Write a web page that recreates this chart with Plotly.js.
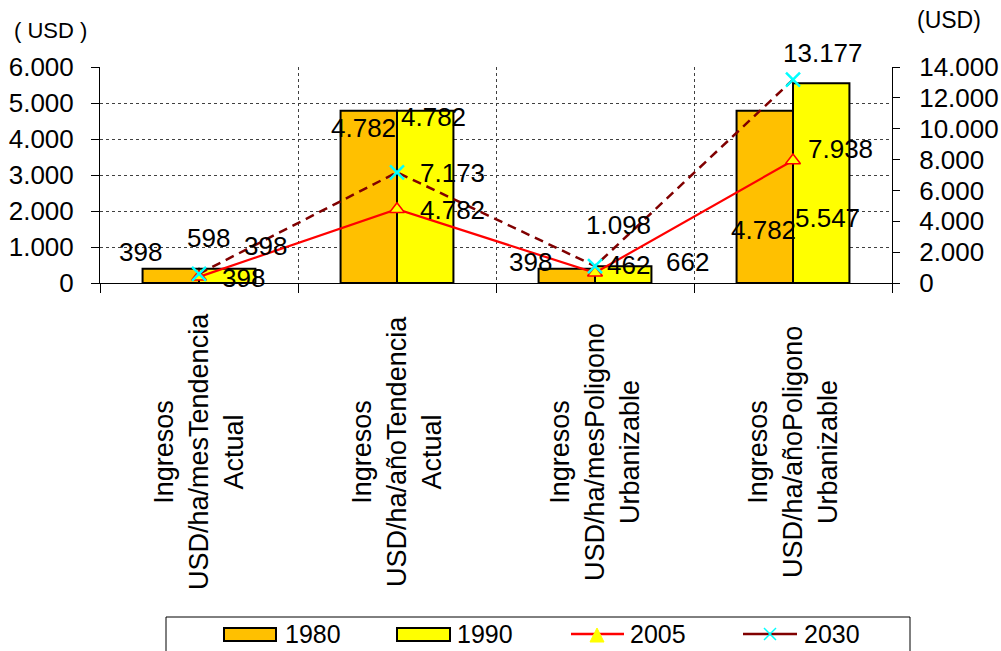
<!DOCTYPE html>
<html>
<head>
<meta charset="utf-8">
<script src="https://cdn.plot.ly/plotly-3.0.1.min.js"></script>
<style>html,body{margin:0;padding:0;background:#fff;}#chart{width:1001px;height:651px;}</style>
</head>
<body>
<div id="chart"></div>
<script>
// ---- data ----
const categories = [
  "Ingresos<br>USD/ha/mesTendencia<br>Actual",
  "Ingresos<br>USD/ha/añoTendencia<br>Actual",
  "Ingresos<br>USD/ha/mesPoligono<br>Urbanizable",
  "Ingresos<br>USD/ha/añoPoligono<br>Urbanizable"
];
const seriesNames = ["1980", "1990", "2005", "2030"];
const v1980 = [398, 4782, 398, 4782];
const v1990 = [398, 4782, 462, 5547];
const v2005 = [398, 4782, 662, 7938];
const v2030 = [598, 7173, 1098, 13177];
const leftTicks = [0, 1000, 2000, 3000, 4000, 5000, 6000];
const rightTicks = [0, 2000, 4000, 6000, 8000, 10000, 12000, 14000];

// ---- label offsets (pixels, relative to category centre / value) ----
const off1980 = [[-59, -17], [-34, 17], [-65, -7], [-30, 119]];
const off1990 = [[44, 9], [36, 6], [33, -1], [34, 135]];
const off2005 = [[66, -31], [55, 1], [92, -11], [47, -12]];
const off2030 = [[9, -36], [55, 1], [23, -41], [30, -27]];

const FONT = "Liberation Sans, Arial, Helvetica, sans-serif";
const M = {l: 100, r: 109, t: 67, b: 368};
const W = 1001, H = 651;
const PW = W - M.l - M.r, PH = H - M.t - M.b;
const px = v => (v - M.l) / PW;
const py = v => (H - M.b - v) / PH;
const fmt = v => String(v).replace(/\B(?=(\d{3})+(?!\d))/g, ".");

const traces = [
  {type: "bar", name: seriesNames[0], x: categories, y: v1980, yaxis: "y",
   marker: {color: "#FFC000", line: {color: "#000", width: 2}}, hoverinfo: "skip"},
  {type: "bar", name: seriesNames[1], x: categories, y: v1990, yaxis: "y",
   marker: {color: "#FFFF00", line: {color: "#000", width: 2}}, hoverinfo: "skip"},
  {type: "scatter", mode: "lines+markers", name: seriesNames[2], x: categories, y: v2005, yaxis: "y2",
   line: {color: "#FF0000", width: 2.2},
   marker: {symbol: "triangle-up", size: 13, color: "#FFFF00", line: {color: "#FF0000", width: 1.5}}},
  {type: "scatter", mode: "lines+markers", name: seriesNames[3], x: categories, y: v2030, yaxis: "y2",
   line: {color: "#800000", width: 2.5, dash: "9px,6px"},
   marker: {symbol: "x-thin", size: 14, color: "#00FFFF", line: {color: "#00FFFF", width: 2.5}}}
];

const annotations = [];
function addLabels(vals, offs, yref) {
  vals.forEach((v, i) => {
    annotations.push({x: categories[i], y: v, xref: "x", yref: yref, text: fmt(v),
      showarrow: false, xanchor: "center", yanchor: "middle",
      xshift: offs[i][0], yshift: -offs[i][1],
      font: {family: FONT, size: 26, color: "#000"}});
  });
}
addLabels(v1980, off1980, "y");
addLabels(v1990, off1990, "y");
addLabels(v2005, off2005, "y2");
addLabels(v2030, off2030, "y2");

// category labels (rotated, centred lines)
categories.forEach(c => {
  annotations.push({x: c, xref: "x", y: 0, yref: "paper", yshift: -169,
    text: c, textangle: -90, showarrow: false, xanchor: "center", yanchor: "middle",
    align: "center", font: {family: FONT, size: 27, color: "#000"}});
});

// axis unit titles
annotations.push({x: px(12), y: py(30), xref: "paper", yref: "paper", text: "( USD )",
  showarrow: false, xanchor: "left", yanchor: "middle", font: {family: FONT, size: 22, color: "#000"}});
annotations.push({x: px(915), y: py(20), xref: "paper", yref: "paper", text: "(USD)",
  showarrow: false, xanchor: "left", yanchor: "middle", font: {family: FONT, size: 23, color: "#000"}});

// custom legend
const shapes = [];
shapes.push({type: "rect", xref: "paper", yref: "paper", x0: px(166), x1: px(910), y0: py(617), y1: py(670),
  line: {color: "#000", width: 1}, fillcolor: "rgba(0,0,0,0)"});
shapes.push({type: "rect", xref: "paper", yref: "paper", x0: px(224), x1: px(276), y0: py(628), y1: py(641),
  line: {color: "#000", width: 2}, fillcolor: "#FFC000"});
shapes.push({type: "rect", xref: "paper", yref: "paper", x0: px(397), x1: px(450), y0: py(628), y1: py(641),
  line: {color: "#000", width: 2}, fillcolor: "#FFFF00"});
shapes.push({type: "line", xref: "paper", yref: "paper", x0: px(571), x1: px(624), y0: py(634), y1: py(634),
  line: {color: "#FF0000", width: 2.5}});
shapes.push({type: "path", xref: "paper", yref: "paper",
  path: `M${px(590)},${py(642)} L${px(597)},${py(628)} L${px(604)},${py(642)} Z`,
  line: {color: "#FFFF00", width: 1}, fillcolor: "#FFFF00"});
shapes.push({type: "line", xref: "paper", yref: "paper", x0: px(743), x1: px(797), y0: py(634), y1: py(634),
  line: {color: "#800000", width: 2.5}});
shapes.push({type: "line", xref: "paper", yref: "paper", x0: px(764), x1: px(776), y0: py(628), y1: py(640),
  line: {color: "#00FFFF", width: 1.5}});
shapes.push({type: "line", xref: "paper", yref: "paper", x0: px(764), x1: px(776), y0: py(640), y1: py(628),
  line: {color: "#00FFFF", width: 1.5}});
const legX = [283, 455, 628, 802];
seriesNames.forEach((n, i) => {
  annotations.push({x: px(legX[i]), y: py(634), xref: "paper", yref: "paper", text: n,
    showarrow: false, xanchor: "left", yanchor: "middle", font: {family: FONT, size: 25, color: "#000"}});
});

const layout = {
  width: W, height: H,
  margin: {l: M.l, r: M.r, t: M.t, b: M.b, pad: 0},
  paper_bgcolor: "#fff", plot_bgcolor: "#fff",
  separators: ",.",
  showlegend: false,
  barmode: "group", bargap: 0.43, bargroupgap: 0,
  font: {family: FONT, size: 26, color: "#000"},
  xaxis: {type: "category", tickson: "boundaries", showticklabels: false,
    ticks: "outside", ticklen: 9, tickcolor: "#000", tickwidth: 1,
    showline: true, linecolor: "#000", linewidth: 1,
    showgrid: true, gridcolor: "#404040", griddash: "dot", gridwidth: 1, zeroline: false},
  yaxis: {range: [0, 6000], tickvals: leftTicks, tickformat: ",d",
    ticks: "outside", ticklen: 8, tickcolor: "#000", ticklabelstandoff: 12,
    showline: true, linecolor: "#000", linewidth: 1,
    showgrid: true, gridcolor: "#404040", griddash: "dot", gridwidth: 1, zeroline: false,
    tickfont: {family: FONT, size: 26, color: "#000"}},
  yaxis2: {range: [0, 14000], tickvals: rightTicks, tickformat: ",d", overlaying: "y", side: "right",
    ticks: "outside", ticklen: 7, tickcolor: "#000", ticklabelstandoff: 14,
    showline: true, linecolor: "#000", linewidth: 1, showgrid: false, zeroline: false,
    tickfont: {family: FONT, size: 26, color: "#000"}},
  yaxis3: {range: [0, 14000], tickvals: rightTicks, overlaying: "y", side: "right", anchor: "x",
    ticks: "inside", ticklen: 8, tickcolor: "#000", showticklabels: false,
    showline: false, showgrid: false, zeroline: false},
  annotations: annotations,
  shapes: shapes
};

Plotly.newPlot("chart", traces, layout, {displayModeBar: false, staticPlot: true});
</script>
</body>
</html>
